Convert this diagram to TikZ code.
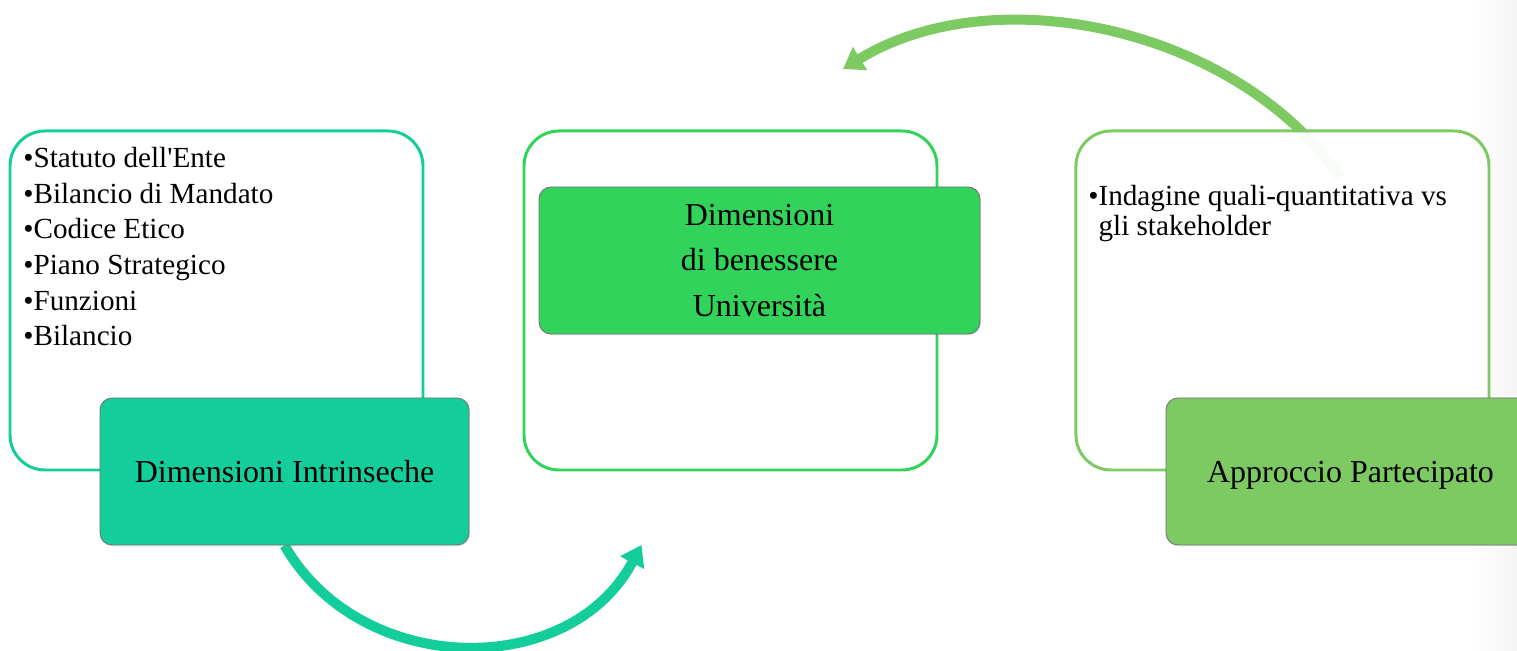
\documentclass[tikz,border=0pt]{standalone}
\usepackage{fontspec}
\setmainfont{Liberation Serif}
\usetikzlibrary{positioning,arrows.meta,backgrounds,shadows}
\definecolor{tealgreen}{RGB}{19,206,154}
\definecolor{brightgreen}{RGB}{50,211,90}
\definecolor{softgreen}{RGB}{125,201,98}
\newcommand{\bodysize}{\fontsize{16.6}{20.3}\selectfont}
\newcommand{\labelsize}{\fontsize{18.2}{26}\selectfont}

\begin{document}
\begin{tikzpicture}[
    outline/.style={rectangle, rounded corners=0.7cm, line width=1.7pt, fill=white, minimum width=8.26cm, minimum height=6.78cm},
    labelbox/.style={rectangle, rounded corners=0.24cm, draw=black!55, line width=0.5pt, minimum width=7.38cm, minimum height=2.94cm, font=\labelsize, align=center, drop shadow={shadow xshift=0.5pt, shadow yshift=-0.7pt, opacity=0.25}},
    listtext/.style={anchor=north west, inner sep=0pt, align=left, font=\bodysize},
    bigarrow/.style={line width=0.2cm, -{Triangle[width=0.52cm, length=0.4cm]}}
]
\useasboundingbox (0,0) rectangle (30.34,13.02);
\clip (0,0) rectangle (30.34,13.02);

% outer frames
\node[outline, draw=tealgreen] (intrbox) at (4.33,7.01) {};
\node[outline, draw=brightgreen, right=1.96cm of intrbox] (benbox) {};
\node[outline, draw=softgreen, fill opacity=0.95, right=2.72cm of benbox] (partbox) {};

% bullet lists
\node[listtext] (intrlist) at (0.46,10.08) {•Statuto dell\textquotesingle Ente\\•Bilancio di Mandato\\•Codice Etico\\•Piano Strategico\\•Funzioni\\•Bilancio};
\node[listtext, font={\fontsize{16.6}{17.1}\selectfont}] (partlist) at (21.76,9.32) {•Indagine quali-quantitativa vs\\\phantom{•}gli stakeholder};

% coloured labels
\node[labelbox, fill=tealgreen] (intrlabel) at (5.69,3.59) {Dimensioni Intrinseche};
\node[labelbox, fill=brightgreen, minimum width=8.82cm] (benlabel) at (15.19,7.81) {Dimensioni\\di benessere\\Università};
\node[labelbox, fill=softgreen, text depth=0pt] (partlabel) at (27.01,3.59) {Approccio Partecipato};

% curved arrows
\coordinate (intrend) at (12.83,2.12);
\coordinate (partstart) at ([xshift=1.17cm, yshift=-0.98cm]partbox.north);
\coordinate (partend) at (16.86,11.64);
\begin{scope}[on background layer]
\shade[left color=white, right color=black!4] (29.4,0) rectangle (30.34,13.02);
\draw[bigarrow, tealgreen] (intrlabel.south) to[out=-60, in=-118, looseness=1.1] (intrend);
\draw[bigarrow, softgreen] (partstart) to[out=124, in=31.5, looseness=0.9] (partend);
\end{scope}

\end{tikzpicture}
\end{document}
